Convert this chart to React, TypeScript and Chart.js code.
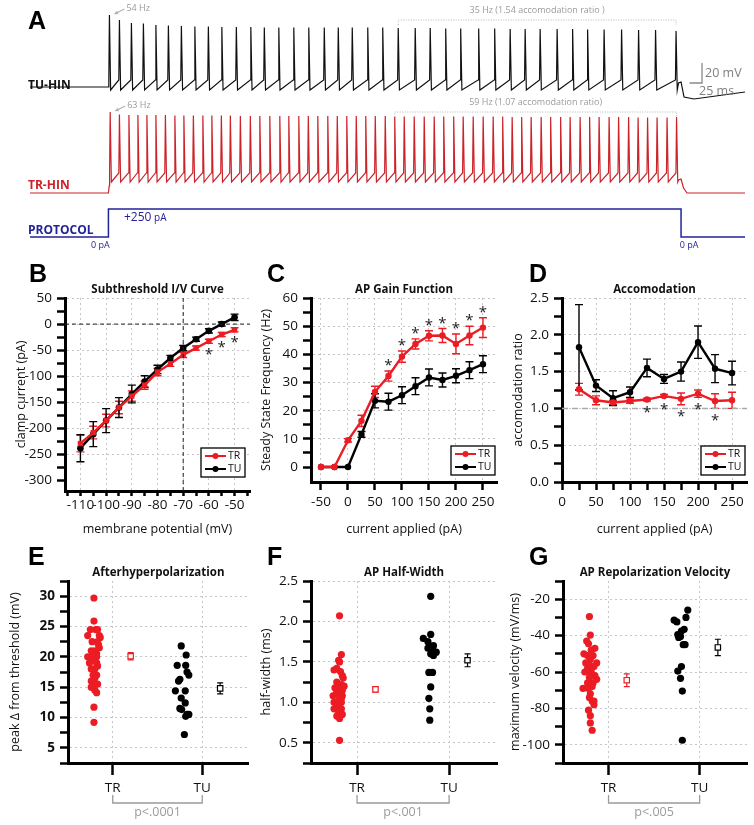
import React, { useEffect, useRef } from "react";
import { Chart, registerables } from "chart.js";

Chart.register(...registerables);

const FONT = "'Open Sans', 'Noto Sans', 'DejaVu Sans', sans-serif";
const LETTER_FONT = "bold 25px 'Liberation Sans', Arial, sans-serif";
const RED = "#ec1c24";
const TRACE_RED = "#cc2229";
const NAVY = "#23239a";
const GRID = "#c6c6c6";
const GRAY = "#9b9b9b";
const INK = "#111111";

// ================= Panel A : voltage traces =================
const TU_SPIKES_MS = [2, 22, 46, 70, 95, 120, 146, 173, 200, 227, 256, 285, 312, 341, 371, 401, 432, 460, 488, 519, 549, 580, 614, 644, 675, 705, 741, 773, 804, 834, 864, 898, 929, 959, 992, 1027, 1061, 1095, 1136];
const TU_PEAKS_MV = [10, 5, 2, 1.5, 0, -0.5, -1, -1.5, -1.5, -2, -2, -2, -2.5, -2.5, -2.5, -2.5, -2.5, -2.5, -2.5, -2.5, -2.5, -3, -3, -3, -3.5, -3.5, -3.5, -3.5, -4, -4, -4, -4, -4, -4.5, -4.5, -4.5, -5, -5, -6];
const TU_THRESHOLD_MV = -55;
const TU_AHP_MV = -65;
const TU_PRE: [number, number][] = [[-157, -62], [0, -62]];
const TU_POST: [number, number][] = [[1141, -58], [1146, -57], [1152, -72], [1172, -74], [1274, -67]];

const TR_SPIKES_MS = [3.5, 22, 41, 59, 77, 95, 114, 133, 151, 170, 189, 207, 226, 244, 264, 284, 303, 323, 343, 361, 381, 400, 419, 439, 458, 477, 496, 515, 534, 554, 573, 592, 612, 632, 652, 671, 691, 710, 730, 750, 770, 789, 808, 827, 846, 866, 885, 905, 924, 944, 963, 982, 1002, 1021, 1041, 1060, 1079, 1098, 1118, 1137];
const TR_PEAKS_MV = [18, 15.5, 15, 15, 15, 15, 15, 14.5, 14.5, 14.5, 14.5, 14.5, 14.5, 14.5, 14, 14, 14, 14, 14, 14, 14, 14, 14, 14, 14, 14, 14, 14, 14, 14, 13.5, 13.5, 13.5, 13.5, 13.5, 13.5, 13.5, 13.5, 13.5, 13.5, 13.5, 13.5, 13, 13, 13, 13, 13, 13, 13, 13, 13, 13, 13, 13, 13, 12.5, 12.5, 12.5, 12.5, 13];
const TR_THRESHOLD_MV = -43;
const TR_AHP_MV = -52;
const TR_PRE: [number, number][] = [[-157, -63], [0, -63], [1.5, -56]];
const TR_POST: [number, number][] = [[1141, -50], [1146, -49], [1151, -58], [1158, -63], [1274, -63]];
const TR_STACK_OFFSET = -105;

const PROTOCOL_T = [-157, 0, 0, 1146, 1146, 1274];
const PROTOCOL_PA = [0, 0, 250, 250, 0, 0];

// scale bar (20 mV / 25 ms)
const SCALE_MV = 20;
const SCALE_MS = 25;

// ================= Panel B =================
const B_V = [-110, -105, -100, -95, -90, -85, -80, -75, -70, -65, -60, -55, -50];
const B_TR = [-229, -208, -185, -160, -138, -117, -92, -76, -59, -46, -33, -20, -11];
const B_TR_ERR = [16, 12, 12, 12, 10, 8, 7, 5, 5, 4, 4, 4, 4];
const B_TU = [-238, -211, -185, -160, -134, -110, -87, -65, -46, -29, -13, 0, 13];
const B_TU_ERR = [26, 24, 23, 19, 17, 11, 8, 5, 5, 4, 4, 4, 6];
const B_STARS = [-60, -55, -50];

// ================= Panel C =================
const C_I = [-50, -25, 0, 25, 50, 75, 100, 125, 150, 175, 200, 225, 250];
const C_TR = [0, 0, 9.5, 16.4, 26.7, 32.3, 39.2, 43.7, 46.6, 46.7, 43.7, 46.7, 49.5];
const C_TR_ERR = [0, 0, 0.6, 2, 2, 1.8, 2, 1.8, 1.8, 2.5, 3.5, 3.3, 3.5];
const C_TU = [0, 0, 0, 11.6, 23.5, 23.2, 25.5, 28.7, 31.8, 30.9, 32.4, 34.4, 36.5];
const C_TU_ERR = [0, 0, 0, 1, 2.5, 3, 3, 3, 3, 2.5, 2.5, 3, 3];
const C_STARS = [75, 100, 125, 150, 175, 200, 225, 250];

// ================= Panel D =================
const D_I = [25, 50, 75, 100, 125, 150, 175, 200, 225, 250];
const D_TR = [1.26, 1.11, 1.08, 1.10, 1.12, 1.17, 1.13, 1.20, 1.10, 1.11];
const D_TR_ERR = [0.08, 0.06, 0.03, 0.03, 0.02, 0.02, 0.08, 0.05, 0.1, 0.11];
const D_TU = [1.83, 1.31, 1.14, 1.22, 1.55, 1.40, 1.50, 1.90, 1.54, 1.48];
const D_TU_ERR = [0.58, 0.08, 0.1, 0.07, 0.12, 0.06, 0.13, 0.22, 0.19, 0.16];
const D_STARS = [125, 150, 175, 200, 225];

// ================= Panels E/F/G (x: 1 = TR, 2 = TU, jitter) =================
const GROUPS = ["TR", "TU"];
const MEAN_POS = [1.2, 2.2];

const E_TR_Y = [29.7, 25.9, 24.5, 24.5, 24.5, 23.5, 23.5, 23.2, 22.5, 22.5, 22.0, 21.5, 21.0, 21.0, 20.5, 20.0, 20.0, 20.0, 19.5, 19.0, 19.0, 18.5, 18.0, 18.0, 17.0, 17.0, 16.5, 16.0, 15.5, 15.5, 15.0, 15.0, 14.5, 14.1, 11.7, 9.2];
const E_TR_X = [0.79, 0.79, 0.81, 0.75, 0.83, 0.72, 0.85, 0.86, 0.77, 0.83, 0.84, 0.85, 0.80, 0.76, 0.82, 0.72, 0.82, 0.77, 0.80, 0.74, 0.82, 0.83, 0.80, 0.76, 0.82, 0.78, 0.80, 0.76, 0.80, 0.83, 0.76, 0.78, 0.80, 0.82, 0.79, 0.79];
const E_TU_Y = [21.8, 20.3, 18.6, 18.6, 17.5, 17.0, 16.3, 16.0, 14.4, 14.4, 13.2, 12.4, 11.5, 11.3, 10.5, 10.5, 10.2, 7.2];
const E_TU_X = [1.765, 1.82, 1.72, 1.815, 1.83, 1.85, 1.75, 1.735, 1.70, 1.81, 1.765, 1.81, 1.75, 1.77, 1.83, 1.85, 1.815, 1.80];
const E_MEAN = [20.1, 14.8];
const E_SEM = [0.6, 0.9];

const F_TR_Y = [2.07, 1.59, 1.52, 1.50, 1.42, 1.38, 1.40, 1.33, 1.30, 1.25, 1.22, 1.22, 1.20, 1.18, 1.18, 1.15, 1.15, 1.12, 1.10, 1.10, 1.08, 1.08, 1.05, 1.02, 1.00, 1.00, 0.95, 0.95, 0.92, 0.92, 0.88, 0.85, 0.83, 0.80, 0.53];
const F_TR_X = [0.81, 0.83, 0.80, 0.81, 0.78, 0.82, 0.75, 0.84, 0.85, 0.78, 0.80, 0.83, 0.86, 0.76, 0.81, 0.78, 0.84, 0.82, 0.77, 0.80, 0.74, 0.84, 0.83, 0.80, 0.75, 0.83, 0.78, 0.81, 0.75, 0.83, 0.80, 0.84, 0.78, 0.81, 0.81];
const F_TU_Y = [2.31, 1.84, 1.79, 1.75, 1.70, 1.67, 1.65, 1.62, 1.60, 1.58, 1.37, 1.37, 1.19, 1.05, 0.92, 0.78];
const F_TU_X = [1.80, 1.80, 1.72, 1.77, 1.83, 1.77, 1.82, 1.86, 1.80, 1.83, 1.78, 1.82, 1.80, 1.78, 1.79, 1.79];
const F_MEAN = [1.16, 1.52];
const F_SEM = [0.03, 0.08];

const G_TR_Y = [-29.5, -39.7, -43, -44.5, -47, -48, -50, -51, -51, -53, -55, -55, -56, -57, -58, -60, -60, -62, -63, -64, -66, -66, -68, -69, -69, -72, -74, -76, -76, -78, -81, -84, -88, -92];
const G_TR_X = [0.79, 0.80, 0.76, 0.78, 0.85, 0.81, 0.73, 0.77, 0.83, 0.80, 0.87, 0.75, 0.79, 0.84, 0.77, 0.81, 0.74, 0.85, 0.79, 0.87, 0.83, 0.77, 0.82, 0.72, 0.78, 0.80, 0.79, 0.84, 0.82, 0.84, 0.78, 0.80, 0.80, 0.82];
const G_TU_Y = [-26, -30, -31.5, -32.5, -36.5, -37.5, -39.5, -40.5, -41, -45, -45, -57, -59.5, -63.5, -70.5, -97.5];
const G_TU_X = [1.87, 1.85, 1.72, 1.75, 1.83, 1.80, 1.76, 1.79, 1.77, 1.82, 1.84, 1.80, 1.76, 1.79, 1.81, 1.81];
const G_MEAN = [-64.5, -46.5];
const G_SEM = [3.5, 4.5];

// ================= helpers =================
const range = (a: number, b: number, s: number) => {
  const out: number[] = [];
  for (let v = a; v <= b + 1e-9; v += s) out.push(Math.round(v * 1000) / 1000);
  return out;
};
const near = (arr: number[], v: number) => arr.some((a) => Math.abs(a - v) < 1e-6);
const pts = (xs: number[], ys: number[]) => xs.map((x, i) => ({ x, y: ys[i] }));

function spikeTrain(spikes: number[], peaks: number[], thr: number, ahp: number, pre: [number, number][], post: [number, number][], offset: number) {
  const out: { x: number; y: number }[] = pre.map(([x, y]) => ({ x, y: y + offset }));
  spikes.forEach((t, i) => {
    out.push({ x: t - 1.2, y: thr + offset });
    out.push({ x: t, y: peaks[i] + offset });
    out.push({ x: t + 2.4, y: ahp + offset });
  });
  post.forEach(([x, y]) => out.push({ x, y: y + offset }));
  return out;
}

function axis(o: any) {
  const isX = o.pos === "x";
  return {
    type: "linear",
    position: isX ? "bottom" : "left",
    min: o.min,
    max: o.max,
    afterBuildTicks: (s: any) => {
      s.ticks = o.ticks.map((v: number) => ({ value: v }));
    },
    afterFit: (s: any) => {
      if (isX) s.height = o.size;
      else s.width = o.size;
      s.paddingLeft = 0;
      s.paddingRight = 0;
      s.paddingTop = 0;
      s.paddingBottom = 0;
    },
    ticks: {
      autoSkip: false,
      maxRotation: 0,
      minRotation: 0,
      padding: o.pad ?? 4,
      color: INK,
      font: { family: FONT, size: o.fontSize ?? 13.5, weight: o.bold ? "bold" : "normal" },
      callback: (v: number) => {
        const i = o.major.findIndex((m: number) => Math.abs(m - v) < 1e-6);
        if (i < 0) return "";
        if (o.labels) return o.labels[i];
        return o.dec ? v.toFixed(o.dec) : String(v);
      },
    },
    grid: {
      display: true,
      drawOnChartArea: true,
      drawTicks: true,
      color: (c: any) => (c.tick && near(o.grid, c.tick.value) ? GRID : "rgba(0,0,0,0)"),
      lineWidth: 1,
      tickColor: "#000",
      tickWidth: 2.5,
      tickLength: o.tl ?? 7,
    },
    border: { display: true, color: "#000", width: 3, dash: [2, 3] },
    title: o.title
      ? {
          display: true,
          text: o.title,
          color: INK,
          font: { family: FONT, size: 12.5 },
          padding: isX ? { top: 0, bottom: o.titlePad } : { top: o.titlePad, bottom: 0 },
        }
      : { display: false },
  };
}

const errorBars = {
  id: "errorBars",
  beforeDatasetsDraw(chart: any) {
    const ctx = chart.ctx;
    chart.data.datasets.forEach((ds: any, di: number) => {
      if (!ds.errs) return;
      const meta = chart.getDatasetMeta(di);
      const ys = chart.scales[meta.yAxisID];
      ctx.save();
      ctx.strokeStyle = ds.errColor;
      ctx.lineWidth = ds.errWidth ?? 1.4;
      meta.data.forEach((p: any, i: number) => {
        const e = ds.errs[i];
        if (!e) return;
        const v = ds.data[i].y;
        const y1 = ys.getPixelForValue(v - e);
        const y2 = ys.getPixelForValue(v + e);
        const c = ds.capW ?? 4;
        ctx.beginPath();
        ctx.moveTo(p.x, y1);
        ctx.lineTo(p.x, y2);
        ctx.moveTo(p.x - c, y1);
        ctx.lineTo(p.x + c, y1);
        ctx.moveTo(p.x - c, y2);
        ctx.lineTo(p.x + c, y2);
        ctx.stroke();
      });
      ctx.restore();
    });
  },
};

function drawLegend(ctx: CanvasRenderingContext2D, right: number, bottom: number) {
  const w = 44, h = 29;
  const x = right - w, y = bottom - h;
  ctx.save();
  ctx.fillStyle = "#fff";
  ctx.fillRect(x, y, w, h);
  ctx.strokeStyle = "#000";
  ctx.lineWidth = 1.3;
  ctx.strokeRect(x, y, w, h);
  const items = [
    { label: "TR", color: RED },
    { label: "TU", color: "#000" },
  ];
  items.forEach((it, i) => {
    const yy = y + 8 + i * 13;
    ctx.strokeStyle = it.color;
    ctx.fillStyle = it.color;
    ctx.lineWidth = 2;
    ctx.beginPath();
    ctx.moveTo(x + 4, yy);
    ctx.lineTo(x + 25, yy);
    ctx.stroke();
    ctx.beginPath();
    ctx.arc(x + 14.5, yy, 3, 0, Math.PI * 2);
    ctx.fill();
    ctx.fillStyle = INK;
    ctx.font = `10.5px ${FONT}`;
    ctx.textBaseline = "middle";
    ctx.textAlign = "left";
    ctx.fillText(it.label, x + 27, yy + 0.5);
  });
  ctx.restore();
}

function drawStar(ctx: CanvasRenderingContext2D, x: number, y: number) {
  ctx.save();
  ctx.fillStyle = "#222";
  ctx.font = `15px ${FONT}`;
  ctx.textAlign = "center";
  ctx.textBaseline = "middle";
  ctx.fillText("*", x, y + 3);
  ctx.restore();
}

function panelConfig(s: any) {
  return {
    type: "line",
    data: { datasets: s.datasets },
    options: {
      responsive: false,
      animation: false,
      events: [],
      layout: { padding: { left: 0, top: s.area.t, right: s.w - s.area.r, bottom: 0 } },
      plugins: { legend: { display: false }, tooltip: { enabled: false }, title: { display: false } },
      elements: { line: { tension: 0 } },
      scales: {
        x: axis({ ...s.x, pos: "x", size: s.h - s.area.b }),
        y: axis({ ...s.y, pos: "y", size: s.area.l }),
      },
    },
    plugins: [
      errorBars,
      {
        id: "deco",
        afterDraw(chart: any) {
          const ctx = chart.ctx;
          const a = chart.chartArea;
          ctx.save();
          ctx.fillStyle = "#000";
          ctx.font = LETTER_FONT;
          ctx.textAlign = "left";
          ctx.textBaseline = "alphabetic";
          ctx.fillText(s.letter, s.letterX, s.letterY);
          ctx.font = `bold 11.5px ${FONT}`;
          ctx.textAlign = "center";
          ctx.textBaseline = "middle";
          ctx.fillStyle = INK;
          ctx.fillText(s.title, (a.left + a.right) / 2, a.top - 8);
          ctx.restore();
          if (s.draw) s.draw(chart, ctx, a);
        },
      },
    ],
  };
}

function lineDS(xs: number[], ys: number[], errs: number[], color: string, style = "circle", r = 3.2) {
  return {
    data: pts(xs, ys),
    borderColor: color,
    backgroundColor: color,
    borderWidth: 2.4,
    pointRadius: r,
    pointStyle: style,
    pointBackgroundColor: color,
    pointBorderColor: color,
    pointBorderWidth: 0,
    errs,
    errColor: color,
    capW: 4,
  };
}
function refLine(data: { x: number; y: number }[], color: string, dash: number[], width = 1) {
  return { data, borderColor: color, borderDash: dash, borderWidth: width, pointRadius: 0 };
}
function dotsDS(xs: number[], ys: number[], color: string) {
  return { data: pts(xs, ys), showLine: false, pointRadius: 3.6, pointBackgroundColor: color, pointBorderWidth: 0, backgroundColor: color, borderColor: color };
}
function meanDS(x: number, y: number, e: number, color: string) {
  return {
    data: [{ x, y }],
    showLine: false,
    pointStyle: "rect",
    pointRadius: 3.8,
    pointBackgroundColor: "#fff",
    pointBorderColor: color,
    pointBorderWidth: 1.2,
    borderColor: color,
    errs: [e],
    errColor: color,
    capW: 3,
    errWidth: 1.2,
  };
}

// ================= Panel builders =================
function makeA() {
  const tu = spikeTrain(TU_SPIKES_MS, TU_PEAKS_MV, TU_THRESHOLD_MV, TU_AHP_MV, TU_PRE, TU_POST, 0);
  const tr = spikeTrain(TR_SPIKES_MS, TR_PEAKS_MV, TR_THRESHOLD_MV, TR_AHP_MV, TR_PRE, TR_POST, TR_STACK_OFFSET);
  const prot = pts(PROTOCOL_T, PROTOCOL_PA);
  const annot = {
    id: "annotA",
    afterDraw(chart: any) {
      const ctx = chart.ctx as CanvasRenderingContext2D;
      const xs = chart.scales.x, ys = chart.scales.y;
      const px = (t: number) => xs.getPixelForValue(t);
      const py = (v: number) => ys.getPixelForValue(v);
      ctx.save();
      ctx.fillStyle = "#000";
      ctx.font = LETTER_FONT;
      ctx.textBaseline = "alphabetic";
      ctx.fillText("A", 28, 29);
      ctx.font = `bold 12px ${FONT}`;
      ctx.fillStyle = INK;
      ctx.fillText("TU-HIN", 28, 89);
      ctx.fillStyle = TRACE_RED;
      ctx.fillText("TR-HIN", 28, 189);
      ctx.fillStyle = NAVY;
      ctx.fillText("PROTOCOL", 28, 234);
      ctx.font = `12px ${FONT}`;
      ctx.fillText("+250", 124, 221);
      const w250 = ctx.measureText("+250").width;
      ctx.font = `10px ${FONT}`;
      ctx.fillText(" pA", 124 + w250, 221);
      ctx.font = `9px ${FONT}`;
      ctx.textAlign = "center";
      ctx.fillText("0 pA", px(PROTOCOL_T[1]) - 8, 248);
      ctx.fillText("0 pA", px(PROTOCOL_T[4]) + 8, 248);

      // frequency annotations
      ctx.fillStyle = GRAY;
      ctx.strokeStyle = "#b0b0b0";
      ctx.font = `9px ${FONT}`;
      const arrow = (x1: number, y1: number, x2: number, y2: number) => {
        ctx.lineWidth = 1.2;
        ctx.beginPath();
        ctx.moveTo(x1, y1);
        ctx.lineTo(x2, y2);
        ctx.stroke();
        const ang = Math.atan2(y2 - y1, x2 - x1);
        ctx.beginPath();
        ctx.moveTo(x2, y2);
        ctx.lineTo(x2 - 4 * Math.cos(ang - 0.5), y2 - 4 * Math.sin(ang - 0.5));
        ctx.lineTo(x2 - 4 * Math.cos(ang + 0.5), y2 - 4 * Math.sin(ang + 0.5));
        ctx.closePath();
        ctx.fillStyle = "#b0b0b0";
        ctx.fill();
      };
      const tu0 = px(TU_SPIKES_MS[0]);
      arrow(tu0 + 15, 9, tu0 + 5, 14);
      ctx.fillStyle = GRAY;
      ctx.textAlign = "left";
      ctx.textBaseline = "middle";
      ctx.fillText("54 Hz", tu0 + 17, 8);
      const tr0 = px(TR_SPIKES_MS[0]);
      arrow(tr0 + 15, 106, tr0 + 5, 111);
      ctx.fillStyle = GRAY;
      ctx.fillText("63 Hz", tr0 + 17, 105);

      const bracket = (t1: number, t2: number, y: number, label: string) => {
        const x1 = px(t1), x2 = px(t2);
        ctx.save();
        ctx.strokeStyle = "#b5b5b5";
        ctx.lineWidth = 1;
        ctx.setLineDash([1, 1.5]);
        ctx.beginPath();
        ctx.moveTo(x1, y + 5);
        ctx.lineTo(x1, y);
        ctx.lineTo(x2, y);
        ctx.lineTo(x2, y + 5);
        ctx.stroke();
        ctx.restore();
        ctx.fillStyle = GRAY;
        ctx.textAlign = "center";
        ctx.textBaseline = "middle";
        ctx.fillText(label, (x1 + x2) / 2, y - 10);
      };
      bracket(TU_SPIKES_MS[21], TU_SPIKES_MS[TU_SPIKES_MS.length - 1], 20, "35 Hz (1.54 accomodation ratio )");
      bracket(TR_SPIKES_MS[30], TR_SPIKES_MS[TR_SPIKES_MS.length - 1], 112, "59 Hz (1.07 accomodation ratio)");

      // scale bar: vertical bar at sbT, horizontal bar extends left by 25 ms
      const sbT = 1188, sbV = -58;
      ctx.strokeStyle = "#8a8a8a";
      ctx.lineWidth = 1.3;
      ctx.beginPath();
      ctx.moveTo(px(sbT - SCALE_MS), py(sbV));
      ctx.lineTo(px(sbT), py(sbV));
      ctx.lineTo(px(sbT), py(sbV + SCALE_MV));
      ctx.stroke();
      ctx.fillStyle = "#808080";
      ctx.font = `12.5px ${FONT}`;
      ctx.textAlign = "left";
      ctx.textBaseline = "middle";
      ctx.fillText("20 mV", px(sbT) + 3, py(sbV + 10));
      ctx.fillText("25 ms", px(sbT) - 3, py(sbV) + 8);
      ctx.restore();
    },
  };
  return {
    type: "line",
    data: {
      datasets: [
        { data: tu, borderColor: "#111", borderWidth: 1.2, pointRadius: 0, yAxisID: "y" },
        { data: tr, borderColor: TRACE_RED, borderWidth: 1.2, pointRadius: 0, yAxisID: "y" },
        { data: prot, borderColor: NAVY, borderWidth: 1.5, pointRadius: 0, yAxisID: "y2" },
      ],
    },
    options: {
      responsive: false,
      animation: false,
      events: [],
      layout: { padding: 0 },
      plugins: { legend: { display: false }, tooltip: { enabled: false } },
      elements: { line: { tension: 0 } },
      scales: {
        x: { type: "linear", min: -217, max: 1292, display: false },
        y: { type: "linear", min: -225, max: 25, display: false },
        y2: { type: "linear", min: -116, max: 2116, display: false },
      },
    },
    plugins: [annot],
  };
}

function makeB() {
  return panelConfig({
    w: 254, h: 295, area: { l: 65, t: 53, r: 250, b: 246 },
    letter: "B", letterX: 29, letterY: 37, title: "Subthreshold I/V Curve",
    x: { min: -116, max: -44, ticks: range(-115, -45, 5), major: range(-110, -50, 10), grid: range(-110, -50, 10), tl: 5, pad: 1, title: "membrane potential (mV)", titlePad: 3.5 },
    y: { min: -320, max: 50, ticks: range(-300, 50, 25), major: range(-300, 50, 50), grid: range(-250, 50, 50), tl: 8, pad: 5, title: "clamp current (pA)", titlePad: 13.5 },
    datasets: [
      refLine([{ x: -116, y: 0 }, { x: -44, y: 0 }], "#222", [4, 3]),
      refLine([{ x: -70, y: -320 }, { x: -70, y: 50 }], "#222", [4, 3]),
      lineDS(B_V, B_TR, B_TR_ERR, RED, "rect", 3.8),
      lineDS(B_V, B_TU, B_TU_ERR, "#000", "circle", 3.3),
    ],
    draw: (chart: any, ctx: CanvasRenderingContext2D, a: any) => {
      const xs = chart.scales.x, ys = chart.scales.y;
      B_STARS.forEach((v) => {
        const i = B_V.indexOf(v);
        drawStar(ctx, xs.getPixelForValue(v), ys.getPixelForValue(B_TR[i]) + 10);
      });
      drawLegend(ctx, a.right - 5, a.bottom - 14);
    },
  });
}

function makeC() {
  return panelConfig({
    w: 254, h: 295, area: { l: 61, t: 53, r: 247, b: 237 },
    letter: "C", letterX: 17, letterY: 37, title: "AP Gain Function",
    x: { min: -68.5, max: 276, ticks: range(-50, 250, 50), major: range(-50, 250, 50), grid: range(-50, 250, 50), tl: 8, pad: 4, title: "current applied (pA)", titlePad: 3.5 },
    y: { min: -5.3, max: 60, ticks: range(0, 60, 5), major: range(0, 60, 10), grid: range(10, 60, 10), tl: 8, pad: 5, title: "Steady State Frequency (Hz)", titlePad: 9 },
    datasets: [lineDS(C_I, C_TR, C_TR_ERR, RED), lineDS(C_I, C_TU, C_TU_ERR, "#000")],
    draw: (chart: any, ctx: CanvasRenderingContext2D, a: any) => {
      const xs = chart.scales.x, ys = chart.scales.y;
      C_STARS.forEach((v) => {
        const i = C_I.indexOf(v);
        drawStar(ctx, xs.getPixelForValue(v), ys.getPixelForValue(C_TR[i] + C_TR_ERR[i]) - 8);
      });
      drawLegend(ctx, a.right - 2, a.bottom - 7);
    },
  });
}

function makeD() {
  return panelConfig({
    w: 254, h: 295, area: { l: 62, t: 53, r: 247, b: 237 },
    letter: "D", letterX: 29, letterY: 37, title: "Accomodation",
    x: { min: 0, max: 272, ticks: range(0, 250, 25), major: range(0, 250, 50), grid: range(50, 250, 50), tl: 8, pad: 4, title: "current applied (pA)", titlePad: 3.5 },
    y: { min: 0, max: 2.5, ticks: range(0, 2.5, 0.25), major: range(0, 2.5, 0.5), grid: range(0.5, 2.5, 0.5), tl: 8, pad: 5, dec: 1, title: "accomodation ratio", titlePad: 11 },
    datasets: [
      refLine([{ x: 0, y: 1 }, { x: 272, y: 1 }], "#aaaaaa", [6, 4], 1.5),
      lineDS(D_I, D_TR, D_TR_ERR, RED),
      lineDS(D_I, D_TU, D_TU_ERR, "#000"),
    ],
    draw: (chart: any, ctx: CanvasRenderingContext2D, a: any) => {
      const xs = chart.scales.x, ys = chart.scales.y;
      D_STARS.forEach((v) => {
        const i = D_I.indexOf(v);
        drawStar(ctx, xs.getPixelForValue(v), ys.getPixelForValue(D_TR[i] - D_TR_ERR[i]) + 9);
      });
      drawLegend(ctx, a.right - 2, a.bottom - 7);
    },
  });
}

function scatterPanel(o: any) {
  return panelConfig({
    w: 254, h: 295, area: o.area,
    letter: o.letter, letterX: o.letterX, letterY: 35, title: o.title,
    x: { min: 0.5, max: 2.52, ticks: [1, 2], major: [1, 2], labels: GROUPS, grid: [1, 2], tl: 12, pad: 5 },
    y: { ...o.y, tl: 8, pad: 5, titlePad: o.titlePad },
    datasets: [
      dotsDS(o.trX, o.trY, RED),
      dotsDS(o.tuX, o.tuY, "#000"),
      meanDS(MEAN_POS[0], o.mean[0], o.sem[0], RED),
      meanDS(MEAN_POS[1], o.mean[1], o.sem[1], "#000"),
    ],
    draw: (chart: any, ctx: CanvasRenderingContext2D, a: any) => {
      const xs = chart.scales.x;
      const x1 = xs.getPixelForValue(1), x2 = xs.getPixelForValue(2);
      const yb = a.bottom + 40;
      ctx.save();
      ctx.strokeStyle = GRAY;
      ctx.lineWidth = 1.3;
      ctx.beginPath();
      ctx.moveTo(x1, yb - 8);
      ctx.lineTo(x1, yb);
      ctx.lineTo(x2, yb);
      ctx.lineTo(x2, yb - 8);
      ctx.stroke();
      ctx.fillStyle = GRAY;
      ctx.font = `12.5px ${FONT}`;
      ctx.textAlign = "center";
      ctx.textBaseline = "middle";
      ctx.fillText(o.p, (x1 + x2) / 2, yb + 9);
      ctx.restore();
    },
  });
}

const makeE = () =>
  scatterPanel({
    area: { l: 68, t: 51, r: 250, b: 233 }, letter: "E", letterX: 28, title: "Afterhyperpolarization",
    y: { min: 2.5, max: 32.5, ticks: range(2.5, 32.5, 2.5), major: range(5, 30, 5), grid: range(5, 30, 5), bold: true, title: "peak Δ from threshold (mV)" },
    titlePad: 8, trX: E_TR_X, trY: E_TR_Y, tuX: E_TU_X, tuY: E_TU_Y, mean: E_MEAN, sem: E_SEM, p: "p<.0001",
  });
const makeF = () =>
  scatterPanel({
    area: { l: 61, t: 51, r: 247, b: 233 }, letter: "F", letterX: 17, title: "AP Half-Width",
    y: { min: 0.25, max: 2.5, ticks: range(0.25, 2.5, 0.25), major: range(0.5, 2.5, 0.5), grid: range(0.5, 2.5, 0.5), dec: 1, title: "half-width (ms)" },
    titlePad: 9, trX: F_TR_X, trY: F_TR_Y, tuX: F_TU_X, tuY: F_TU_Y, mean: F_MEAN, sem: F_SEM, p: "p<.001",
  });
const makeG = () =>
  scatterPanel({
    area: { l: 63, t: 51, r: 247, b: 233 }, letter: "G", letterX: 29, title: "AP Repolarization Velocity",
    y: { min: -110, max: -10, ticks: range(-110, -10, 10), major: range(-100, -20, 20), grid: range(-100, -20, 20), title: "maximum velocity (mV/ms)" },
    titlePad: 8, trX: G_TR_X, trY: G_TR_Y, tuX: G_TU_X, tuY: G_TU_Y, mean: G_MEAN, sem: G_SEM, p: "p<.005",
  });

function ChartCanvas({ x, y, w, h, make }: any) {
  const ref = useRef<HTMLCanvasElement>(null);
  useEffect(() => {
    const chart = new Chart(ref.current as HTMLCanvasElement, make());
    return () => chart.destroy();
  }, []);
  return <canvas ref={ref} width={w} height={h} style={{ position: "absolute", left: x, top: y, width: w, height: h }} />;
}

export default function App() {
  return (
    <div style={{ position: "fixed", left: 0, top: 0, width: 754, height: 825, background: "#fff", overflow: "hidden" }}>
      <ChartCanvas x={0} y={0} w={754} h={250} make={makeA} />
      <ChartCanvas x={0} y={245} w={254} h={295} make={makeB} />
      <ChartCanvas x={250} y={245} w={254} h={295} make={makeC} />
      <ChartCanvas x={500} y={245} w={254} h={295} make={makeD} />
      <ChartCanvas x={0} y={530} w={254} h={295} make={makeE} />
      <ChartCanvas x={250} y={530} w={254} h={295} make={makeF} />
      <ChartCanvas x={500} y={530} w={254} h={295} make={makeG} />
    </div>
  );
}
